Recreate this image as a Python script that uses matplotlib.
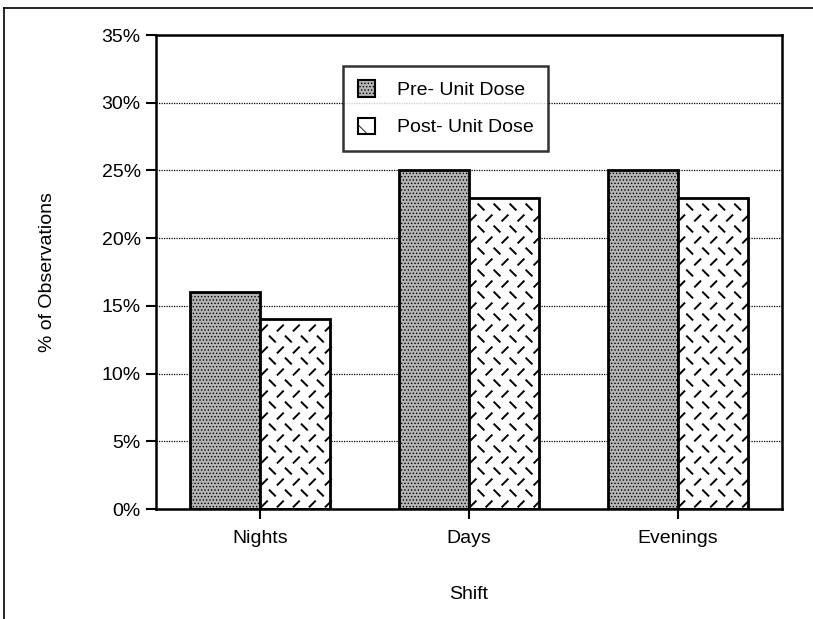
import matplotlib
matplotlib.use("Agg")
import matplotlib.pyplot as plt
import numpy as np
from matplotlib.patches import Patch
from matplotlib.collections import LineCollection
from matplotlib.transforms import IdentityTransform
from matplotlib.lines import Line2D

plt.rcParams['font.family'] = ['Liberation Sans', 'DejaVu Sans']
plt.rcParams['hatch.linewidth'] = 0.6

# data
shifts = ['Nights', 'Days', 'Evenings']
pre_unit = [16, 25, 25]
post_unit = [14, 23, 23]
series_names = ['Pre- Unit Dose', 'Post- Unit Dose']

fig = plt.figure(figsize=(8.13, 6.19), dpi=100)
ax = fig.add_axes([156 / 813, 1 - 509 / 619, 626 / 813, 474 / 619])

x = np.arange(len(shifts))
w = 0.335
pre_bars = ax.bar(x - w / 2, pre_unit, w, facecolor='#b4b4b4', edgecolor='black',
                  linewidth=2, hatch='.....', zorder=3)
post_bars = ax.bar(x + w / 2, post_unit, w, facecolor='white', edgecolor='black',
                   linewidth=2, zorder=3)

ax.set_xlim(-0.5, 2.5)
ax.set_ylim(0, 35)
ax.set_yticks(range(0, 36, 5))
ax.set_yticklabels([f'{v}%' for v in range(0, 36, 5)])
ax.set_xticks(x)
ax.set_xticklabels(shifts)
ax.yaxis.grid(True, linestyle=(0, (1, 1)), color='black', linewidth=0.9, zorder=0)
ax.set_axisbelow(True)
ax.tick_params(axis='y', direction='out', length=7, width=1.5, labelsize=14, pad=4)
ax.tick_params(axis='x', direction='out', length=7, width=1.5, labelsize=14, pad=8)
for s in ax.spines.values():
    s.set_linewidth(1.8)
    s.set_zorder(4)

ax.set_xlabel('Shift', fontsize=14, labelpad=28)
ax.set_ylabel('% of Observations', fontsize=14, labelpad=33)

# dashed texture on post bars, drawn in pixels and clipped to each bar
fig.canvas.draw()
for bar in post_bars:
    bb = bar.get_window_extent()
    segs = []
    step_x, step_y, half = 16, 11, 3.4
    j = 0
    yy = bb.y0 + 5
    while yy < bb.y1:
        xx = bb.x0 + 4 + (j % 2) * step_x / 2
        while xx < bb.x1:
            if j % 2 == 0:
                segs.append([(xx - half, yy - half), (xx + half, yy + half)])
            else:
                segs.append([(xx - half, yy + half), (xx + half, yy - half)])
            xx += step_x
        yy += step_y
        j += 1
    lc = LineCollection(segs, colors='black', linewidths=1.4,
                        transform=IdentityTransform(), zorder=3.5)
    lc.set_clip_path(bar)
    ax.add_collection(lc, autolim=False)

handles = [Patch(facecolor='#b4b4b4', edgecolor='black', hatch='.....', linewidth=1.5),
           Patch(facecolor='white', edgecolor='black', hatch='\\', linewidth=1.5)]
leg = ax.legend(handles, series_names, loc='upper left', bbox_to_anchor=(0.299, 0.935),
                fontsize=14, frameon=True, fancybox=False, handlelength=0.9,
                handleheight=0.9, labelspacing=0.95, borderpad=0.75, handletextpad=1.1,
                borderaxespad=0)
leg.get_frame().set_edgecolor('black')
leg.get_frame().set_linewidth(1.8)
leg.set_zorder(5)

# outer frame (top and left edges)
fig.add_artist(Line2D([4 / 813, 1], [1 - 8 / 619, 1 - 8 / 619], color='black', linewidth=1.2))
fig.add_artist(Line2D([4 / 813, 4 / 813], [0, 1 - 8 / 619], color='black', linewidth=1.2))

fig.savefig('out.png', dpi=100)
